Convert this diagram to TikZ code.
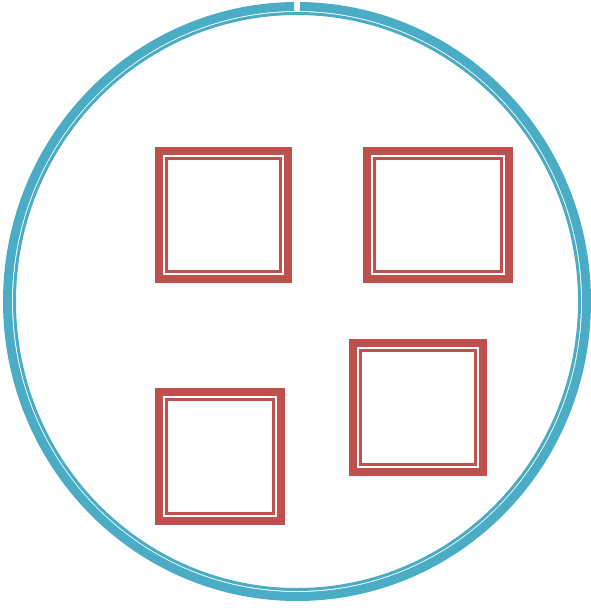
\documentclass[tikz,border=0pt]{standalone}
\usepackage{tikz}
\usetikzlibrary{positioning}

\definecolor{ringblue}{HTML}{4BACC6}
\definecolor{boxred}{HTML}{C0504D}

\begin{document}
\begin{tikzpicture}[x=1pt,y=-1pt,
    ringouter/.style={ringblue, line width=9pt},
    ringinner/.style={ringblue, line width=3pt},
    boxouter/.style={boxred, line width=8pt},
    boxinner/.style={boxred, line width=2.8pt}]
    \useasboundingbox (0,0) rectangle (591,608);
    % big ring, open a little at the top
    \coordinate (ringc) at (297,301.5);
    \draw[ringouter] (ringc) ++(-89.4:289.5 and 295) arc[start angle=-89.4, end angle=269.4, x radius=289.5, y radius=295];
    \draw[ringinner] (ringc) ellipse[x radius=282.5, y radius=288];
    % four boxes
    \draw[boxouter] (159,151) rectangle (288,279);
    \draw[boxinner] (166.5,158.5) rectangle (280.5,271.5);
    \draw[boxouter] (367,151) rectangle (509,279);
    \draw[boxinner] (374.5,158.5) rectangle (501.5,271.5);
    \draw[boxouter] (159,392) rectangle (281,521);
    \draw[boxinner] (166.5,399.5) rectangle (273.5,513.5);
    \draw[boxouter] (353,343) rectangle (483,472);
    \draw[boxinner] (360.5,350.5) rectangle (475.5,464.5);
\end{tikzpicture}
\end{document}
